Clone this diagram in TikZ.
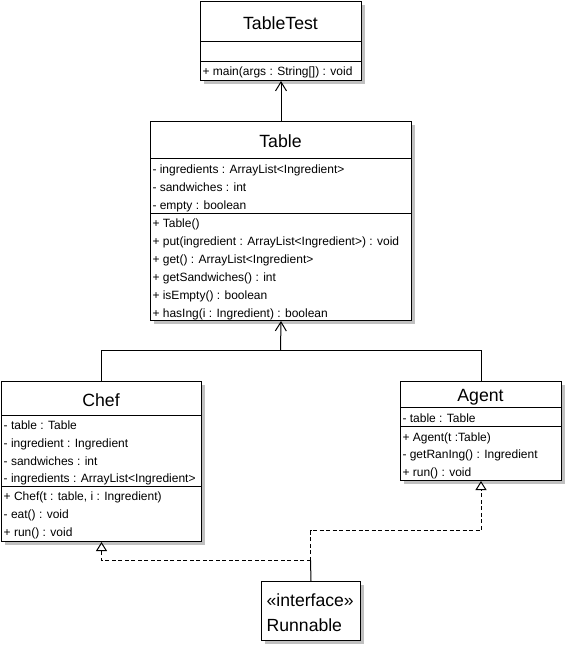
\documentclass[tikz,border=0pt]{standalone}
\usepackage{fontspec}
\setmainfont{Liberation Sans}
\usetikzlibrary{arrows.meta,shadows}
\definecolor{shadowgray}{RGB}{192,192,192}
\begin{document}
\begin{tikzpicture}[x=1pt,y=-1pt,
  classbox/.style={draw=black,line width=1pt,fill=white,inner sep=0pt,anchor=north west,
    drop shadow={shadow xshift=3.5pt,shadow yshift=-3.5pt,fill=shadowgray,opacity=1}},
  divider/.style={line width=1pt},
  classtitle/.style={anchor=base,inner sep=0pt,font=\fontsize{17.7}{20}\selectfont},
  member/.style={anchor=base west,inner sep=0pt,font=\fontsize{12}{14}\selectfont},
  iface/.style={anchor=base west,inner sep=0pt,font=\fontsize{17.6}{20}\selectfont},
  assoc/.style={line width=1pt,-{Straight Barb[length=9pt,width=11pt]}},
  realize/.style={line width=1pt,dash pattern=on 4pt off 2.5pt,-{Triangle[length=9pt,width=11pt,fill=white]}},
  plain/.style={line width=1pt}
]
\useasboundingbox (0,0) rectangle (565,645);

% ---------- TableTest ----------
\node[classbox,minimum width=161pt,minimum height=79pt] (tabletest) at (200,1) {};
\draw[divider] (tabletest.west |- 0,41) -- (tabletest.east |- 0,41);
\draw[divider] (tabletest.west |- 0,61) -- (tabletest.east |- 0,61);
\node[classtitle] (tabletest-name) at (280.5,29) {TableTest};
\node[member] (tabletest-m1) at (202.3,75.5) {+ main(args : String[]) : void};

% ---------- Table ----------
\node[classbox,minimum width=261pt,minimum height=199pt] (table) at (150,121) {};
\draw[divider] (table.west |- 0,158) -- (table.east |- 0,158);
\draw[divider] (table.west |- 0,213) -- (table.east |- 0,213);
\node[classtitle] (table-name) at (280.5,147) {Table};
\node[member] (table-a1) at (152.3,173) {- ingredients : ArrayList<Ingredient>};
\node[member] (table-a2) at (152.3,191) {- sandwiches : int};
\node[member] (table-a3) at (152.3,209) {- empty : boolean};
\node[member] (table-m1) at (152.3,227) {+ Table()};
\node[member] (table-m2) at (152.3,245) {+ put(ingredient : ArrayList<Ingredient>) : void};
\node[member] (table-m3) at (152.3,263) {+ get() : ArrayList<Ingredient>};
\node[member] (table-m4) at (152.3,281) {+ getSandwiches() : int};
\node[member] (table-m5) at (152.3,299) {+ isEmpty() : boolean};
\node[member] (table-m6) at (152.3,317) {+ hasIng(i : Ingredient) : boolean};

% ---------- Chef ----------
\node[classbox,minimum width=200pt,minimum height=160pt] (chef) at (1,381) {};
\draw[divider] (chef.west |- 0,415) -- (chef.east |- 0,415);
\draw[divider] (chef.west |- 0,486) -- (chef.east |- 0,486);
\node[classtitle] (chef-name) at (101,406) {Chef};
\node[member] (chef-a1) at (3.5,429.5) {- table : Table};
\node[member] (chef-a2) at (3.5,447.3) {- ingredient : Ingredient};
\node[member] (chef-a3) at (3.5,465) {- sandwiches : int};
\node[member] (chef-a4) at (3.5,482.8) {- ingredients : ArrayList<Ingredient>};
\node[member] (chef-m1) at (3.5,500.7) {+ Chef(t : table, i : Ingredient)};
\node[member] (chef-m2) at (3.5,518.5) {- eat() : void};
\node[member] (chef-m3) at (3.5,536.3) {+ run() : void};

% ---------- Agent ----------
\node[classbox,minimum width=161pt,minimum height=99pt] (agent) at (400,381) {};
\draw[divider] (agent.west |- 0,407.3) -- (agent.east |- 0,407.3);
\draw[divider] (agent.west |- 0,426) -- (agent.east |- 0,426);
\node[classtitle] (agent-name) at (480.5,401.5) {Agent};
\node[member] (agent-a1) at (402.3,422.5) {- table : Table};
\node[member] (agent-m1) at (402.3,441) {+ Agent(t :Table)};
\node[member] (agent-m2) at (402.3,458.5) {- getRanIng() : Ingredient};
\node[member] (agent-m3) at (402.3,476) {+ run() : void};

% ---------- Runnable ----------
\node[classbox,minimum width=99pt,minimum height=59pt] (runnable) at (261,581) {};
\node[iface] (runnable-st) at (266.5,606) {«interface»};
\node[iface] (runnable-name) at (266.5,631.5) {Runnable};

% ---------- connectors ----------
\draw[assoc] (table.north) -- (tabletest.south);

\coordinate (gen-join) at (280.5,350.5);
\draw[plain] (chef.north) |- (gen-join);
\draw[plain] (agent.north) |- (gen-join);
\draw[assoc] (gen-join) -- (table.south);

\coordinate (real-join) at (310.5,560.5);
\coordinate (real-up) at (310.5,530.7);
\draw[plain] (runnable.north) -- (real-join);
\draw[realize] (real-join) -| (chef.south);
\draw[realize] (real-join) -- (real-up) -| (agent.south);
\end{tikzpicture}
\end{document}
